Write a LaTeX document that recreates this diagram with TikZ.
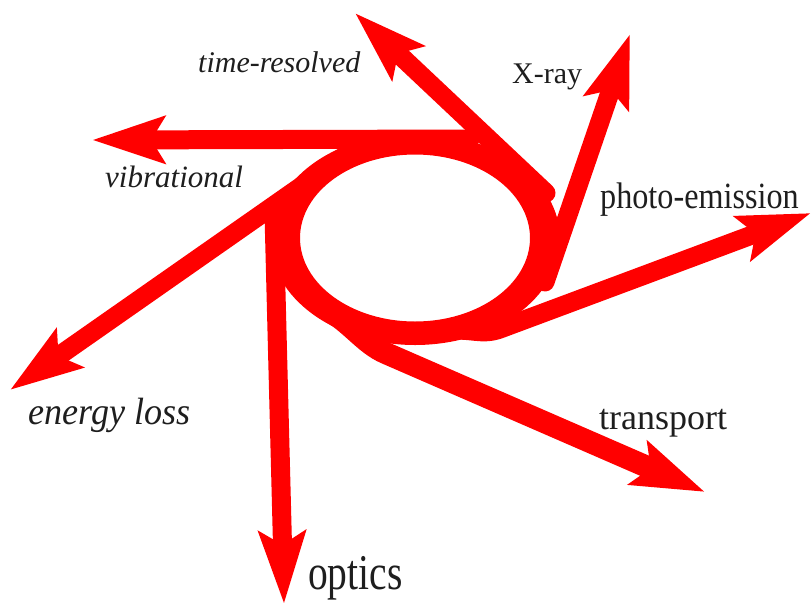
\documentclass[tikz,border=0pt]{standalone}
\usepackage{fontspec}
\setmainfont{Liberation Serif}[ItalicFont={Liberation Serif Italic}]
\usepackage{graphicx}
\usetikzlibrary{arrows.meta}

\definecolor{spokered}{RGB}{255,0,0}
\definecolor{labgray}{RGB}{30,30,30}

\tikzset{
  spoke/.style={draw=spokered, line width=19pt, line cap=round,
    -{Stealth[length=72pt, width=46pt, inset=13pt]}},
  lab/.style={anchor=base west, inner sep=0pt, text=labgray}
}

\begin{document}
\begin{tikzpicture}[x=1pt,y=-1pt]

  \def\fs#1{\fontsize{#1}{#1}\selectfont}
  \useasboundingbox (0,0) rectangle (812,606);

  \coordinate (hub) at (415,239);
  % ring: outer and inner ellipse
  \fill[spokered, even odd rule] (hub) ellipse (145 and 106)
    ([yshift=1]hub) ellipse (115 and 83.5);

  % spokes: start on the ring, end at the tip
  \coordinate (vib0) at (470,139); \coordinate (vib1) at (92,140);
  \coordinate (tim0) at (546,193); \coordinate (tim1) at (355,13);
  \coordinate (xra0) at (545,282); \coordinate (xra1) at (630,34);
  \coordinate (pho0) at (448.6,331.3); \coordinate (phoJ) at (500,329);
  \coordinate (pho1) at (811,213);
  \coordinate (tra0) at (331.4,312.3); \coordinate (traJ) at (385,352.8);
  \coordinate (tra1) at (705,492);
  \coordinate (opt0) at (274,214); \coordinate (opt1) at (284,604);
  \coordinate (ene0) at (356,148); \coordinate (ene1) at (10,390);

  \foreach \a in {vib,tim,xra,opt,ene}
    \draw[spoke] (\a0) -- (\a1);
  \draw[spoke] (pho0) .. controls +(20,-4) and +(-19,7) .. (phoJ) -- (pho1);
  \draw[spoke, line width=22pt] (tra0) .. controls +(21,13) and +(-20,-9) .. (traJ) -- (tra1);

  \node[lab, font=\fs{30}\itshape] (timtxt) at (198,72) {time-resolved};
  \node[lab, font=\fs{30}] (xratxt) at (512,83) {X-ray};
  \node[lab, font=\fs{31}\itshape] (vibtxt) at (105,187) {vibrational};
  \node[lab, font=\fs{37}] (photxt) at (600,208) {\scalebox{.87}[1]{photo-emission}};
  \node[lab, font=\fs{38}\itshape] (enetxt) at (28,424) {\scalebox{.95}[1]{energy loss}};
  \node[lab, font=\fs{36}] (tratxt) at (599,429) {transport};
  \node[lab, font=\fs{50}] (opttxt) at (308,589) {\scalebox{.79}[1]{optics}};

\end{tikzpicture}
\end{document}
